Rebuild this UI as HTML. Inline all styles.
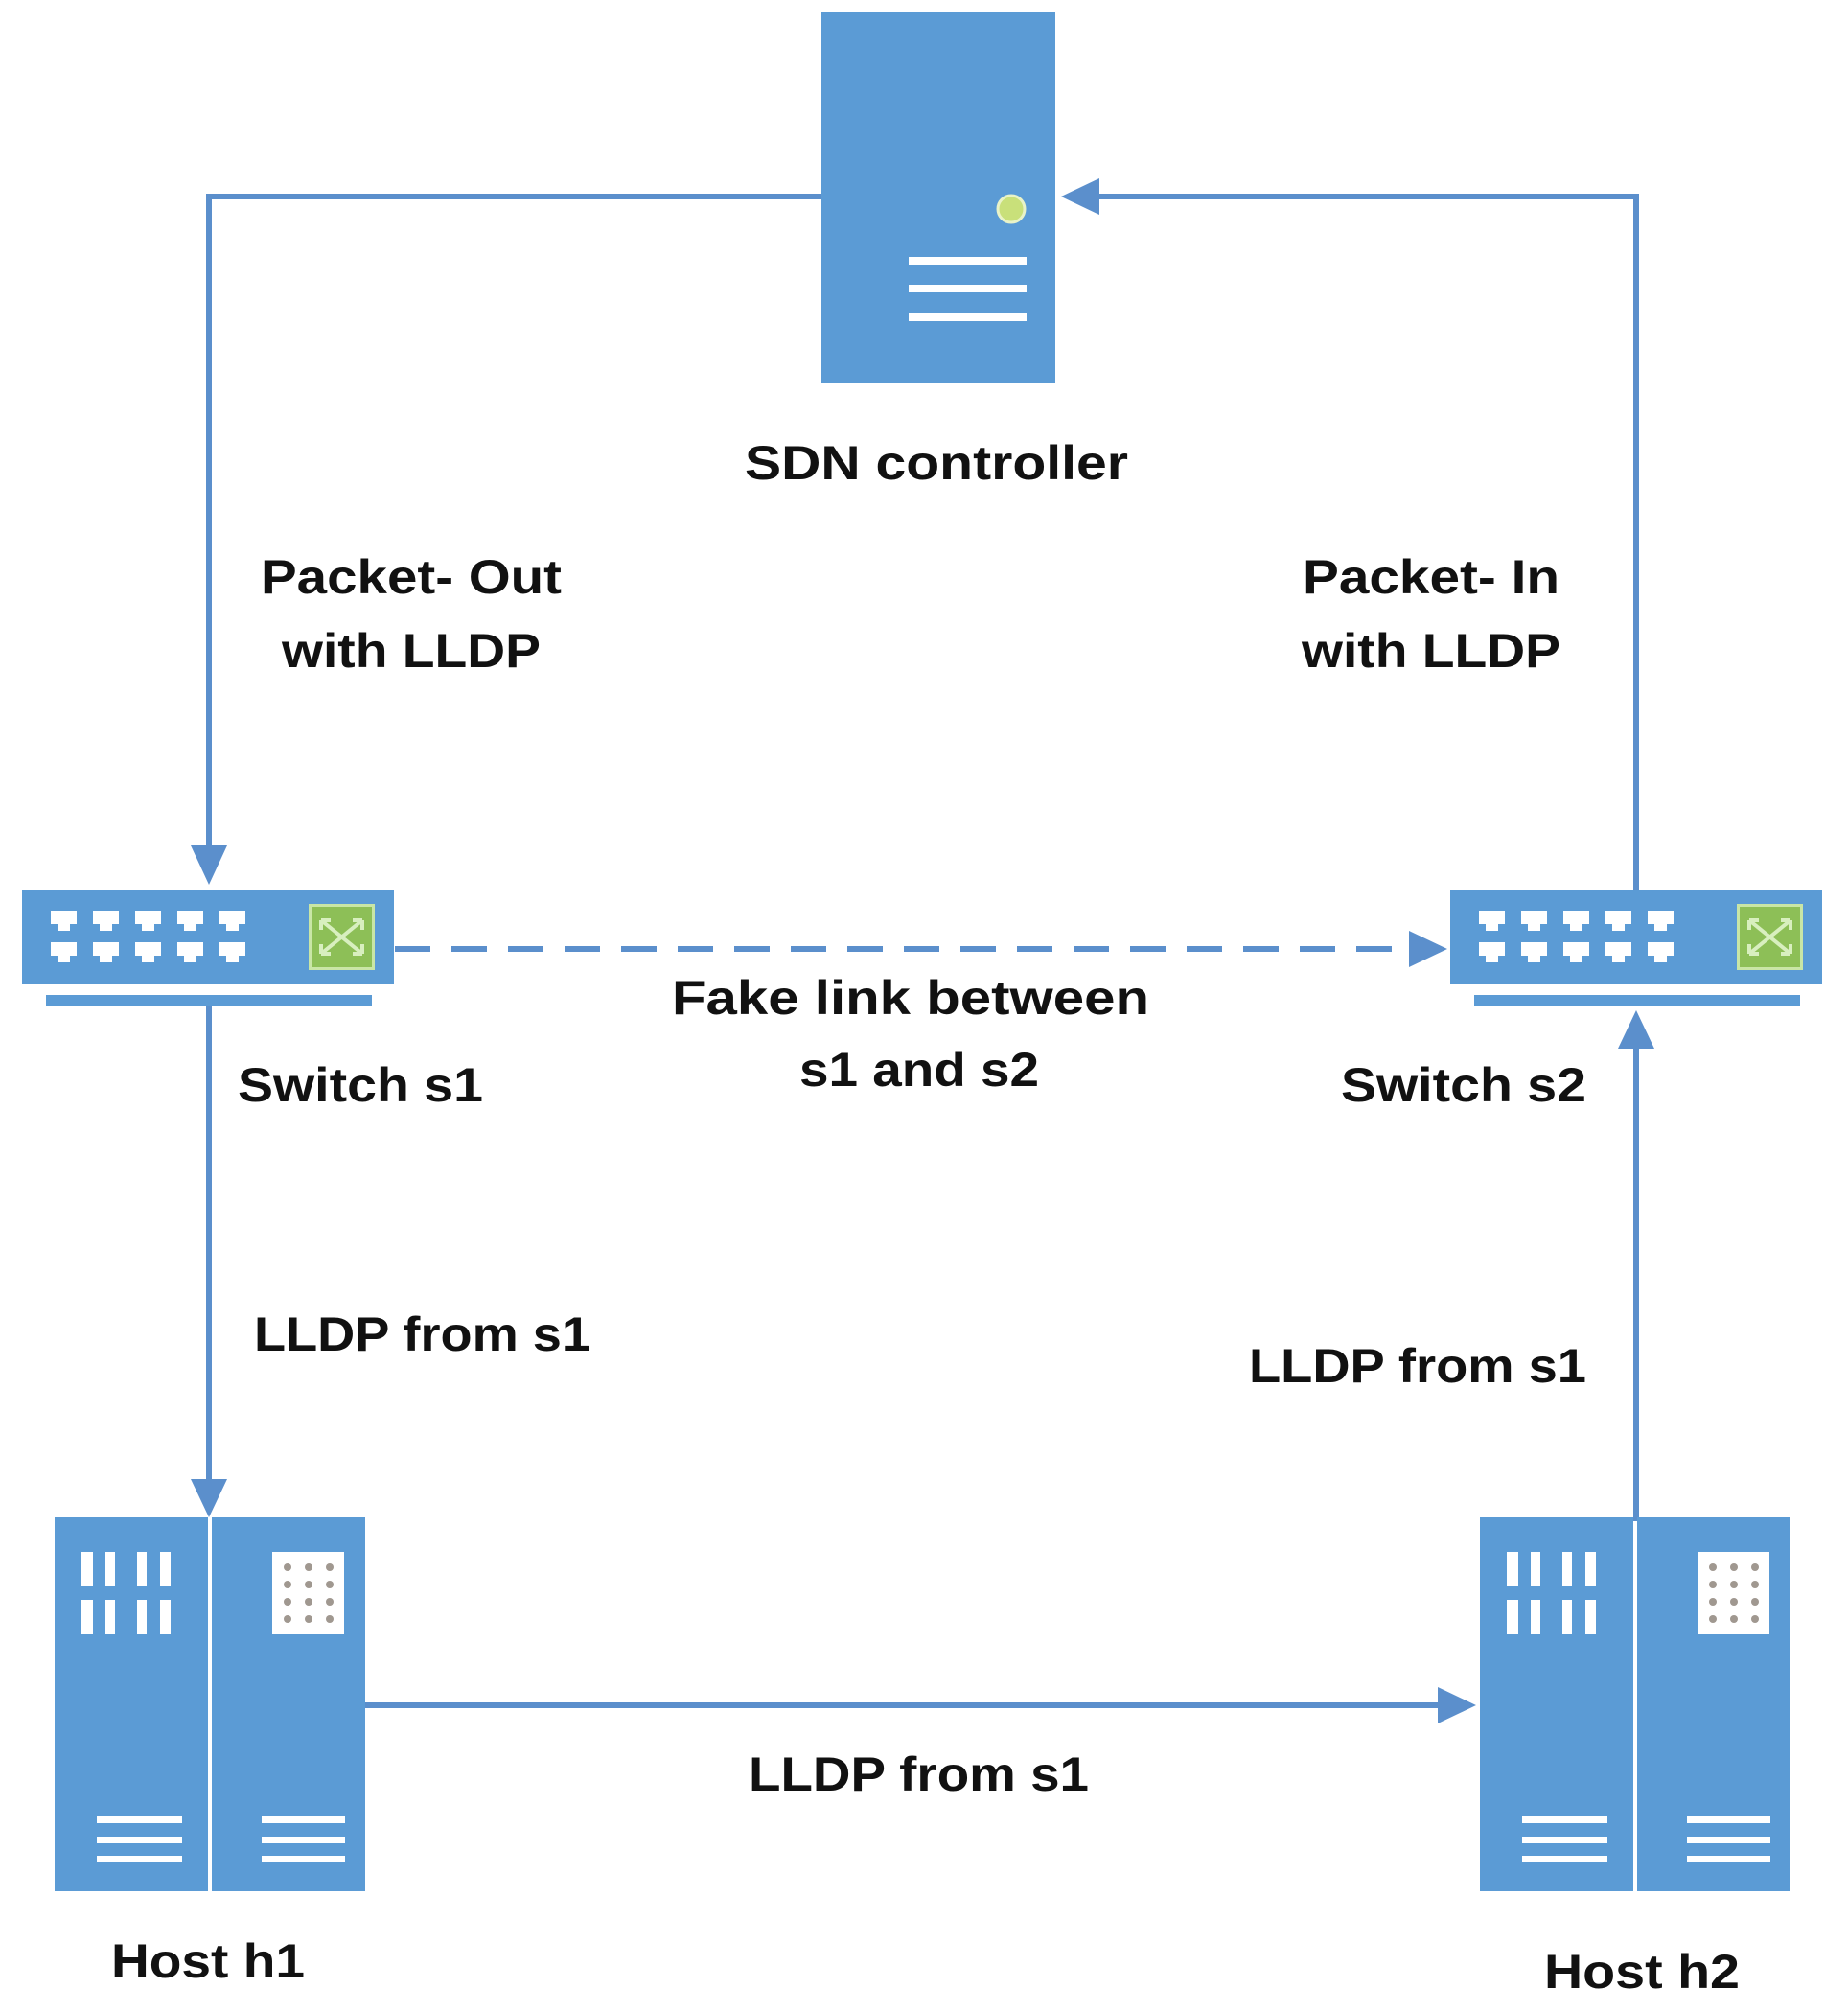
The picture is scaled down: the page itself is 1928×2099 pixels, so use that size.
<!DOCTYPE html>
<html><head><meta charset="utf-8"><style>
html,body{margin:0;padding:0;background:#fff}
svg{display:block}
text{font-family:"Liberation Sans",sans-serif;font-weight:bold;fill:#111;font-size:50px}
</style></head><body>
<svg width="1928" height="2099" viewBox="0 0 1928 2099" xmlns="http://www.w3.org/2000/svg">
<defs>
<g id="port"><rect x="0" y="0" width="27" height="14" fill="#fff"/><rect x="7" y="13" width="13" height="8" fill="#fff"/></g>
<g id="sw">
<rect x="0" y="0" width="388" height="99" fill="#5b9bd5"/>
<rect x="25" y="110" width="340" height="12" fill="#5b9bd5"/>
<use href="#port" x="30" y="22"/><use href="#port" x="74" y="22"/><use href="#port" x="118" y="22"/><use href="#port" x="162" y="22"/><use href="#port" x="206" y="22"/>
<use href="#port" x="30" y="55"/><use href="#port" x="74" y="55"/><use href="#port" x="118" y="55"/><use href="#port" x="162" y="55"/><use href="#port" x="206" y="55"/>
<rect x="299" y="15" width="69" height="69" fill="#c9e6a6"/>
<rect x="302" y="18" width="63" height="63" fill="#8dbf57"/>
<path d="M312 32 L355 67 M355 32 L312 67 M312 32 h10 M312 32 v10 M355 32 h-10 M355 32 v10 M312 67 h10 M312 67 v-10 M355 67 h-10 M355 67 v-10" stroke="#d8efbf" stroke-width="4" fill="none"/>
</g>
<g id="host">
<rect x="0" y="0" width="160" height="390" fill="#5b9bd5"/>
<rect x="164" y="0" width="160" height="390" fill="#5b9bd5"/>
<rect x="28" y="36" width="12" height="36" fill="#fff"/><rect x="53" y="36" width="10" height="36" fill="#fff"/><rect x="86" y="36" width="10" height="36" fill="#fff"/><rect x="110" y="36" width="11" height="36" fill="#fff"/>
<rect x="28" y="86" width="12" height="36" fill="#fff"/><rect x="53" y="86" width="10" height="36" fill="#fff"/><rect x="86" y="86" width="10" height="36" fill="#fff"/><rect x="110" y="86" width="11" height="36" fill="#fff"/>
<rect x="227" y="36" width="75" height="86" fill="#fff"/>
<g fill="#a09890">
<circle cx="243" cy="52" r="4"/><circle cx="265" cy="52" r="4"/><circle cx="287" cy="52" r="4"/>
<circle cx="243" cy="70" r="4"/><circle cx="265" cy="70" r="4"/><circle cx="287" cy="70" r="4"/>
<circle cx="243" cy="88" r="4"/><circle cx="265" cy="88" r="4"/><circle cx="287" cy="88" r="4"/>
<circle cx="243" cy="106" r="4"/><circle cx="265" cy="106" r="4"/><circle cx="287" cy="106" r="4"/>
</g>
<rect x="44" y="312" width="89" height="7" fill="#fff"/><rect x="44" y="333" width="89" height="7" fill="#fff"/><rect x="44" y="353" width="89" height="7" fill="#fff"/>
<rect x="216" y="312" width="87" height="7" fill="#fff"/><rect x="216" y="333" width="87" height="7" fill="#fff"/><rect x="216" y="353" width="87" height="7" fill="#fff"/>
</g>
</defs>

<rect x="857" y="13" width="244" height="387" fill="#5b9bd5"/>
<circle cx="1055" cy="218" r="14" fill="#c9e07a" stroke="#e9f3c8" stroke-width="3"/>
<rect x="948" y="268" width="123" height="8" fill="#fff"/>
<rect x="948" y="297" width="123" height="8" fill="#fff"/>
<rect x="948" y="327" width="123" height="8" fill="#fff"/>

<g stroke="#5b8fcc" stroke-width="6" fill="none">
<path d="M857 205 H218 V890"/>
<path d="M1707 928 V205 H1140"/>
<path d="M218 1050 V1548"/>
<path d="M1707 1587 V1090"/>
<path d="M380 1779 H1505"/>
<path d="M412 990 H1475" stroke-dasharray="37 22"/>
</g>
<g fill="#5b8fcc">
<path d="M1107 205 L1147 186 L1147 224 Z"/>
<path d="M218 923 L199 882 L237 882 Z"/>
<path d="M218 1583 L199 1543 L237 1543 Z"/>
<path d="M1707 1054 L1688 1094 L1726 1094 Z"/>
<path d="M1540 1779 L1500 1760 L1500 1798 Z"/>
<path d="M1510 990 L1470 971 L1470 1009 Z"/>
</g>

<use href="#sw" x="23" y="928"/>
<use href="#sw" x="1513" y="928"/>
<use href="#host" x="57" y="1583"/>
<use href="#host" x="1544" y="1583"/>

<text x="977" y="500" text-anchor="middle" textLength="400" lengthAdjust="spacingAndGlyphs">SDN controller</text>
<text x="429" y="619" text-anchor="middle" textLength="314" lengthAdjust="spacingAndGlyphs">Packet- Out</text>
<text x="429" y="696" text-anchor="middle" textLength="270" lengthAdjust="spacingAndGlyphs">with LLDP</text>
<text x="1493" y="619" text-anchor="middle" textLength="268" lengthAdjust="spacingAndGlyphs">Packet- In</text>
<text x="1493" y="696" text-anchor="middle" textLength="270" lengthAdjust="spacingAndGlyphs">with LLDP</text>
<text x="950" y="1058" text-anchor="middle" textLength="498" lengthAdjust="spacingAndGlyphs">Fake link between</text>
<text x="959" y="1133" text-anchor="middle" textLength="250" lengthAdjust="spacingAndGlyphs">s1 and s2</text>
<text x="248" y="1149" textLength="256" lengthAdjust="spacingAndGlyphs">Switch s1</text>
<text x="1399" y="1149" textLength="256" lengthAdjust="spacingAndGlyphs">Switch s2</text>
<text x="265" y="1409" textLength="351" lengthAdjust="spacingAndGlyphs">LLDP from s1</text>
<text x="1303" y="1442" textLength="352" lengthAdjust="spacingAndGlyphs">LLDP from s1</text>
<text x="781" y="1868" textLength="355" lengthAdjust="spacingAndGlyphs">LLDP from s1</text>
<text x="116" y="2063" textLength="202" lengthAdjust="spacingAndGlyphs">Host h1</text>
<text x="1611" y="2074" textLength="204" lengthAdjust="spacingAndGlyphs">Host h2</text>
</svg>
</body></html>
